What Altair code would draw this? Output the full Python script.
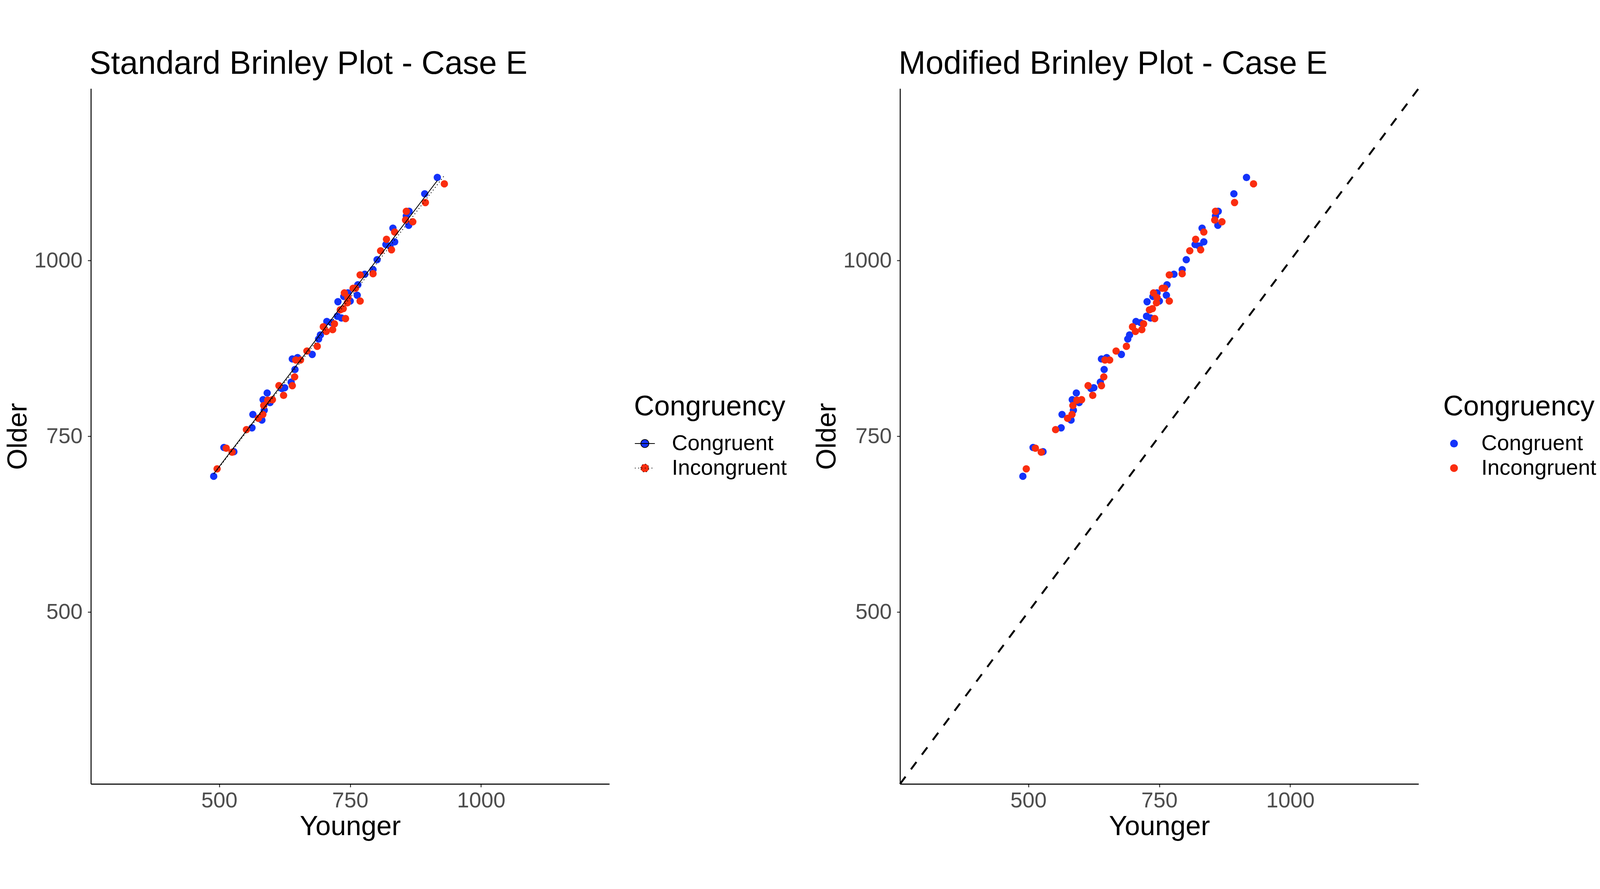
import altair as alt
import pandas as pd

# ---------------- data ----------------
groups = ["Congruent", "Incongruent"]
colors = ["#1433FA", "#FA2D0F"]

congruent_younger = [489.5, 509.0, 528.0, 562.6, 564.3, 581.5, 586.0, 583.8, 591.6, 597.0,
                     619.5, 625.0, 637.4, 644.7, 639.6, 649.6, 677.6, 689.8, 693.2, 705.5,
                     714.4, 725.6, 733.4, 726.7, 750.1, 737.9, 745.7, 763.5, 764.7, 778.0,
                     793.7, 801.5, 818.3, 826.1, 835.0, 831.7, 861.8, 857.3, 862.5, 892.4,
                     916.5]
congruent_older = [693.0, 734.0, 728.0, 762.0, 781.0, 773.0, 787.0, 802.0, 811.5, 798.0,
                   818.0, 819.0, 827.0, 845.0, 860.0, 862.0, 866.5, 888.4, 894.2, 913.3,
                   911.7, 920.8, 918.3, 941.5, 942.4, 949.0, 954.0, 950.7, 965.6, 980.6,
                   987.2, 1001.3, 1022.9, 1020.7, 1026.7, 1046.2, 1050.3, 1063.6, 1070.2, 1095.1,
                   1118.4]

incongruent_younger = [496.0, 513.4, 524.6, 552.0, 574.8, 583.3, 585.0, 592.7, 601.6, 614.0,
                       622.9, 639.6, 644.0, 646.3, 655.2, 667.5, 687.2, 704.4, 698.8, 716.6,
                       720.0, 741.2, 731.2, 736.8, 744.6, 745.7, 739.0, 769.1, 755.7, 760.2,
                       769.1, 793.7, 808.2, 819.4, 829.0, 835.0, 855.8, 857.3, 869.6, 893.7,
                       929.9]
incongruent_older = [703.6, 733.0, 727.3, 759.4, 775.5, 781.0, 793.7, 801.3, 802.0, 822.0,
                     808.2, 822.0, 834.5, 858.5, 858.5, 871.3, 878.0, 899.2, 905.8, 901.7,
                     910.0, 917.5, 929.9, 931.6, 939.9, 947.4, 954.0, 942.4, 960.6, 960.6,
                     979.7, 981.4, 1014.0, 1030.4, 1015.4, 1040.7, 1057.8, 1070.2, 1055.3, 1082.7,
                     1109.3]

tick_values = [500, 750, 1000]
axis_limits = [300, 1200]
titles = ["Standard Brinley Plot - Case E", "Modified Brinley Plot - Case E"]

# ---------------- tables ----------------
df = pd.DataFrame({
    "Younger": congruent_younger + incongruent_younger,
    "Older": congruent_older + incongruent_older,
    "Congruency": [groups[0]] * len(congruent_younger) + [groups[1]] * len(incongruent_younger),
})

pad = 0.05 * (axis_limits[1] - axis_limits[0])
dom = [axis_limits[0] - pad, axis_limits[1] + pad]

diag = pd.DataFrame({"Younger": [dom[0]], "Older": [dom[0]],
                     "Younger_end": [dom[1]], "Older_end": [dom[1]]})

W, H = 1477, 1982
GAP = 828
FONT = "Liberation Sans"
PT_SIZE = 440
LEG_SIZE = 500
LEG_OFFSET = 70
LEG_DROP = 868.8          # vertical drop of the legend title line below the plot top
TITLE_SIZE = 92
TITLE_RISE = 41.5         # title baseline height above the plot top

# legend key for the standard plot: horizontal line with a dot on it
KEY_PATH = ("M-1,0L1,0M-0.4035,0A0.4035,0.4035,0,1,1,0.4035,0"
            "A0.4035,0.4035,0,1,1,-0.4035,0Z")

def xenc():
    return alt.X("Younger:Q",
                 scale=alt.Scale(domain=dom, nice=False, zero=False),
                 axis=alt.Axis(values=tick_values, title="Younger", format="d",
                               labelPadding=8, titlePadding=5))

def yenc():
    return alt.Y("Older:Q",
                 scale=alt.Scale(domain=dom, nice=False, zero=False),
                 axis=alt.Axis(values=tick_values, title="Older", format="d",
                               labelPadding=15, titlePadding=6))

def panel_title(text):
    return alt.Chart(pd.DataFrame({"title": [text]})).mark_text(
        align="left", baseline="alphabetic", font=FONT, fontSize=TITLE_SIZE,
        color="black", dx=-4,
    ).encode(text="title:N", x=alt.value(0), y=alt.value(-TITLE_RISE))

color_scale = alt.Scale(domain=groups, range=colors)
dash_scale = alt.Scale(domain=groups, range=[[1, 0], [2.5, 7]])

left_legend = alt.Legend(title=["", "Congruency"], titleLineHeight=LEG_DROP,
                         orient="right", offset=LEG_OFFSET,
                         symbolType=KEY_PATH, symbolSize=3249,
                         symbolStrokeColor="black", symbolStrokeWidth=2.0,
                         symbolOpacity=1, labelOffset=46)

right_legend = alt.Legend(title=["", "Congruency"], titleLineHeight=LEG_DROP,
                          orient="right", offset=LEG_OFFSET,
                          symbolType="circle", symbolSize=LEG_SIZE,
                          symbolOpacity=1, labelOffset=47)

# ---------------- left: standard Brinley plot ----------------
left_points = alt.Chart(df).mark_circle(size=PT_SIZE, opacity=1).encode(
    x=xenc(), y=yenc(),
    color=alt.Color("Congruency:N", scale=color_scale, legend=left_legend),
)

left_lines = alt.Chart(df).transform_regression(
    "Younger", "Older", groupby=["Congruency"]
).mark_line(color="black", strokeWidth=2.3).encode(
    x="Younger:Q", y="Older:Q",
    strokeDash=alt.StrokeDash("Congruency:N", scale=dash_scale, legend=left_legend),
)

left = alt.layer(left_points, left_lines, panel_title(titles[0])).properties(
    width=W, height=H)

# ---------------- right: modified Brinley plot ----------------
right_points = alt.Chart(df).mark_circle(size=PT_SIZE, opacity=1).encode(
    x=xenc(), y=yenc(),
    color=alt.Color("Congruency:N", scale=color_scale, legend=right_legend),
)

right_diag = alt.Chart(diag).mark_rule(color="black", strokeWidth=5.5,
                                       strokeDash=[26, 26]).encode(
    x="Younger:Q", y="Older:Q", x2="Younger_end:Q", y2="Older_end:Q")

right = alt.layer(right_points, right_diag, panel_title(titles[1])).properties(
    width=W, height=H)

chart = alt.hconcat(left, right, spacing=GAP, bounds="flush").resolve_scale(
    color="independent", strokeDash="independent"
).resolve_legend(
    color="independent", strokeDash="independent"
).properties(
    padding={"left": 3, "top": 0, "right": 0, "bottom": 0}
).configure_axis(
    labelFont=FONT, labelFontSize=62, labelColor="#4D4D4D",
    titleFont=FONT, titleFontSize=78, titleFontWeight="normal", titleColor="black",
    grid=False, domainColor="black", domainWidth=2.8,
    tickColor="#333333", tickWidth=2.8, tickSize=9,
).configure_legend(
    titleFont=FONT, titleFontSize=80, titleFontWeight="normal", titleColor="black",
    labelFont=FONT, labelFontSize=62, labelColor="black",
    titlePadding=32, rowPadding=8, padding=0,
    labelLimit=2000, titleLimit=2000,
).configure_view(stroke="transparent")

chart.save("out.html", embed_options={"renderer": "svg", "actions": False})
